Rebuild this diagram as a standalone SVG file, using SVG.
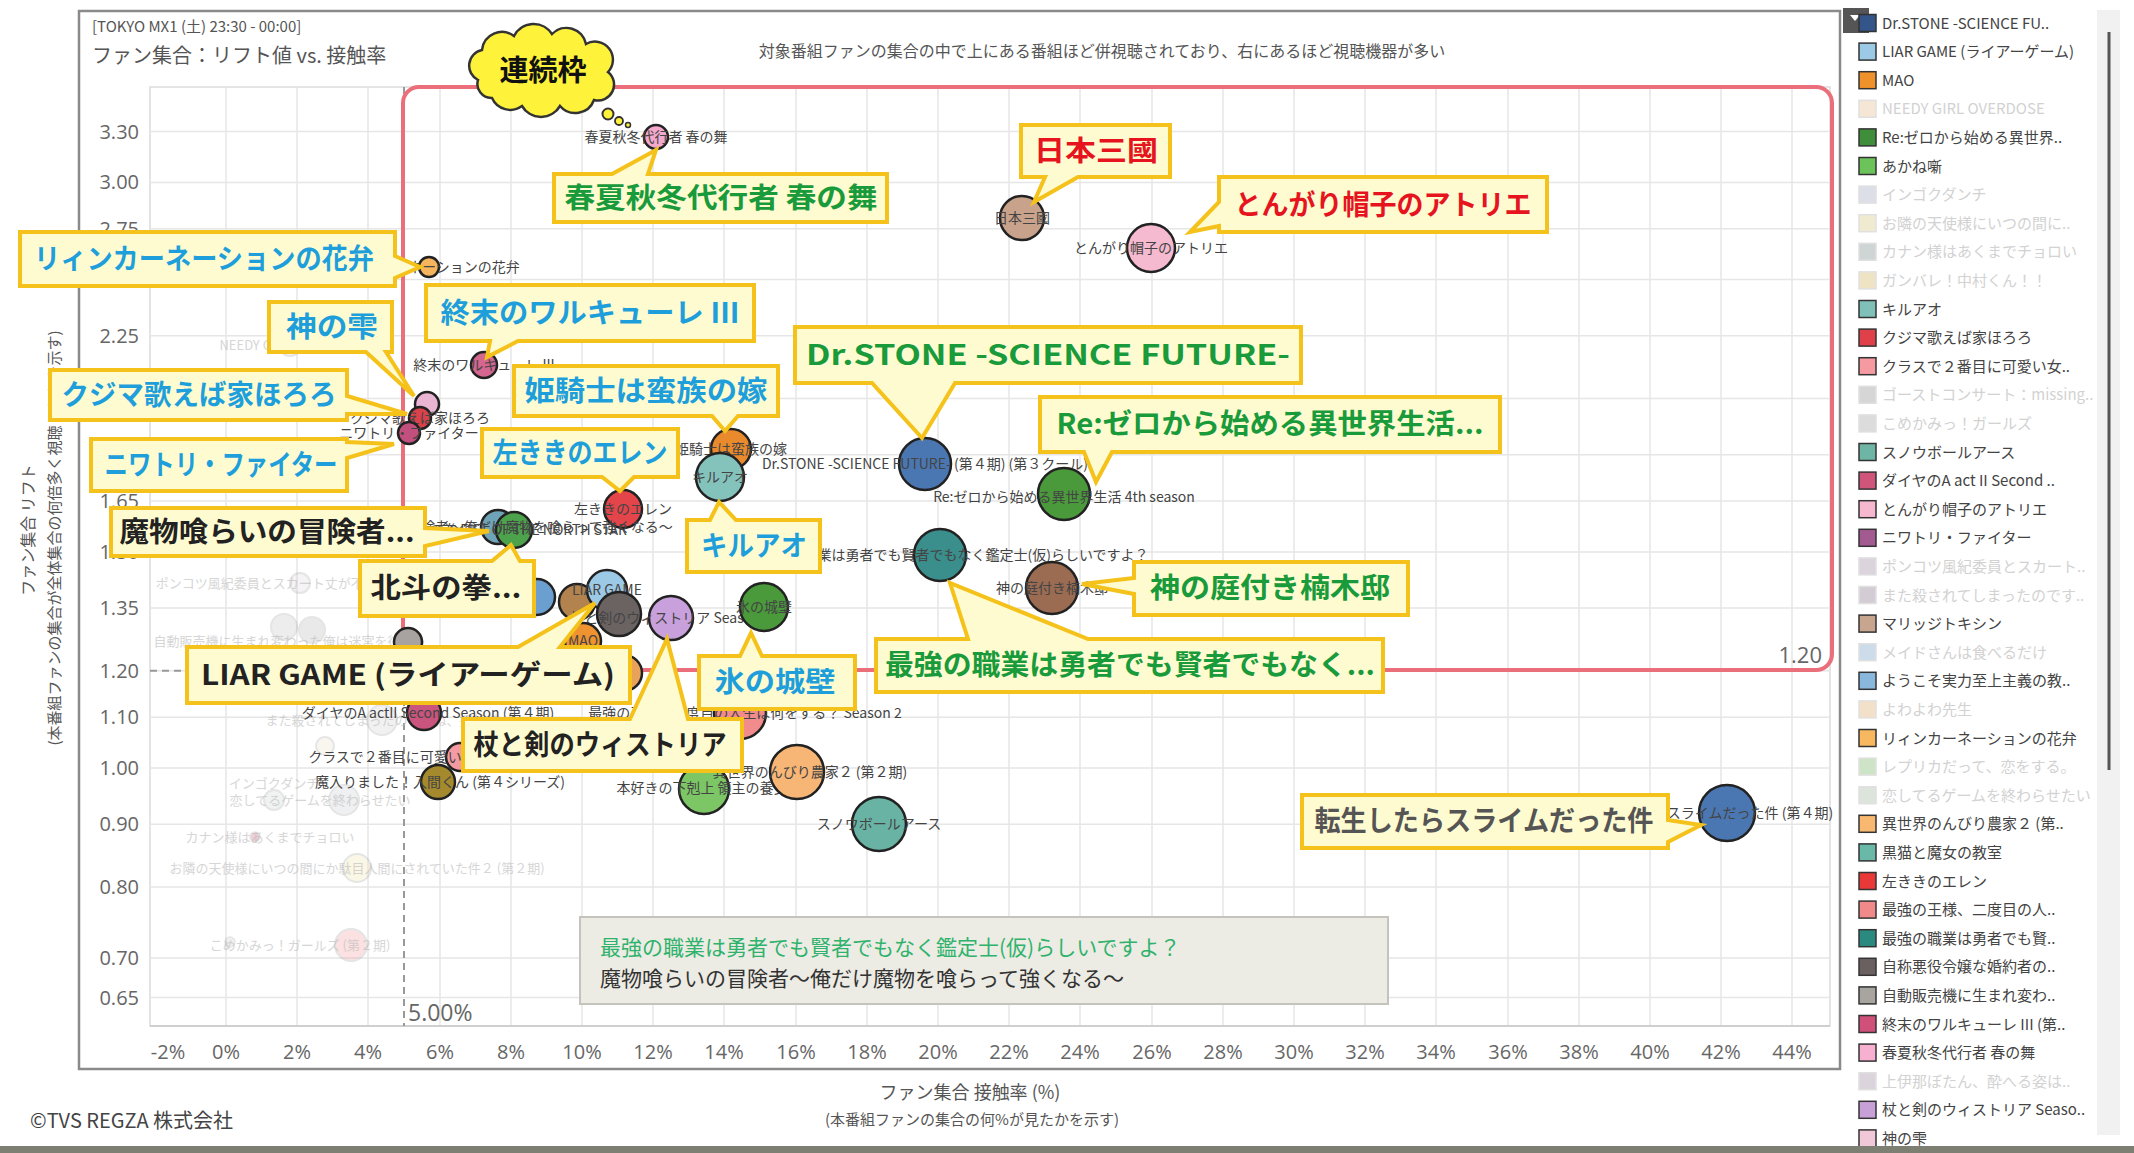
<svg xmlns="http://www.w3.org/2000/svg" width="2134" height="1153" viewBox="0 0 2134 1153">
<style>
.grid{stroke:#e6e6e6;stroke-width:1.5}
.yt{font-family:"Open Sans",sans-serif;font-size:20px;fill:#666;text-anchor:end}
.xt{font-family:"Open Sans",sans-serif;font-size:20px;fill:#666;text-anchor:middle}
.dot{stroke:#222;stroke-width:2.5}
.fd{opacity:0.25}
.lbl{font-family:"Noto Sans CJK JP",sans-serif;font-size:14px;fill:#444;text-anchor:middle}
.flbl{font-family:"Noto Sans CJK JP",sans-serif;font-size:13px;fill:#bbb;text-anchor:middle;opacity:0.6}
.co{fill:#fffbd0;stroke:#f4c21a;stroke-width:4;stroke-linejoin:miter}
.ct{font-family:"Noto Sans CJK JP",sans-serif;font-size:28px;font-weight:700;text-anchor:middle}
.cy{fill:#1e9fdb}.gr{fill:#199a3b}.rd{fill:#e5141e}.bk{fill:#222}.gy{fill:#555}
.lg{font-family:"Noto Sans CJK JP",sans-serif;font-size:15px;fill:#444}
.lgf{fill:#d2d2d2}
.sw{stroke:#333;stroke-width:1.5}
.swf{stroke:#e0e0e0;stroke-width:1.5}
.ttl{font-family:"Noto Sans CJK JP",sans-serif;fill:#555}
</style>
<rect x="0" y="0" width="2134" height="1153" fill="#ffffff"/>

<!-- chart frame -->
<rect x="79" y="11" width="1761" height="1058" fill="#ffffff" stroke="#8a8a8a" stroke-width="2.5"/>

<!-- titles -->
<text class="ttl" x="92" y="32" font-size="15">[TOKYO MX1 (土) 23:30 - 00:00]</text>
<text class="ttl" x="92" y="63" font-size="20">ファン集合：リフト値 vs. 接触率</text>
<text class="ttl" x="1102" y="57" font-size="16" text-anchor="middle" fill="#777">対象番組ファンの集合の中で上にある番組ほど併視聴されており、右にあるほど視聴機器が多い</text>

<!-- grid -->
<g id="grid">
<rect x="150" y="87" width="1680" height="939" fill="none" stroke="#dcdcdc" stroke-width="1.5"/>
<g class="grid">
<line x1="226" y1="87" x2="226" y2="1026"/><line x1="297" y1="87" x2="297" y2="1026"/><line x1="368" y1="87" x2="368" y2="1026"/><line x1="440" y1="87" x2="440" y2="1026"/><line x1="511" y1="87" x2="511" y2="1026"/><line x1="582" y1="87" x2="582" y2="1026"/><line x1="653" y1="87" x2="653" y2="1026"/><line x1="724" y1="87" x2="724" y2="1026"/><line x1="796" y1="87" x2="796" y2="1026"/><line x1="867" y1="87" x2="867" y2="1026"/><line x1="938" y1="87" x2="938" y2="1026"/><line x1="1009" y1="87" x2="1009" y2="1026"/><line x1="1080" y1="87" x2="1080" y2="1026"/><line x1="1152" y1="87" x2="1152" y2="1026"/><line x1="1223" y1="87" x2="1223" y2="1026"/><line x1="1294" y1="87" x2="1294" y2="1026"/><line x1="1365" y1="87" x2="1365" y2="1026"/><line x1="1436" y1="87" x2="1436" y2="1026"/><line x1="1508" y1="87" x2="1508" y2="1026"/><line x1="1579" y1="87" x2="1579" y2="1026"/><line x1="1650" y1="87" x2="1650" y2="1026"/><line x1="1721" y1="87" x2="1721" y2="1026"/><line x1="1792" y1="87" x2="1792" y2="1026"/>
<line x1="150" y1="131.6" x2="1830" y2="131.6"/><line x1="150" y1="182.4" x2="1830" y2="182.4"/><line x1="150" y1="228.8" x2="1830" y2="228.8"/><line x1="150" y1="279.6" x2="1830" y2="279.6"/><line x1="150" y1="335.8" x2="1830" y2="335.8"/><line x1="150" y1="398.6" x2="1830" y2="398.6"/><line x1="150" y1="454.7" x2="1830" y2="454.7"/><line x1="150" y1="501.1" x2="1830" y2="501.1"/><line x1="150" y1="551.9" x2="1830" y2="551.9"/><line x1="150" y1="608" x2="1830" y2="608"/><line x1="150" y1="670.8" x2="1830" y2="670.8"/><line x1="150" y1="717.2" x2="1830" y2="717.2"/><line x1="150" y1="768" x2="1830" y2="768"/><line x1="150" y1="824.2" x2="1830" y2="824.2"/><line x1="150" y1="886.9" x2="1830" y2="886.9"/><line x1="150" y1="958.1" x2="1830" y2="958.1"/><line x1="150" y1="997.6" x2="1830" y2="997.6"/>
</g>
<line x1="150" y1="1026" x2="1830" y2="1026" stroke="#cfcfcf" stroke-width="2"/>
</g>

<!-- axis ticks -->
<g id="yaxis">
<text class="yt" x="139" y="139">3.30</text><text class="yt" x="139" y="189">3.00</text><text class="yt" x="139" y="236">2.75</text><text class="yt" x="139" y="343">2.25</text><text class="yt" x="139" y="508">1.65</text><text class="yt" x="139" y="559">1.50</text><text class="yt" x="139" y="615">1.35</text><text class="yt" x="139" y="678">1.20</text><text class="yt" x="139" y="724">1.10</text><text class="yt" x="139" y="775">1.00</text><text class="yt" x="139" y="831">0.90</text><text class="yt" x="139" y="894">0.80</text><text class="yt" x="139" y="965">0.70</text><text class="yt" x="139" y="1005">0.65</text>
<text class="ttl" font-size="16" fill="#666" text-anchor="middle" transform="translate(34,530) rotate(-90)">ファン集合 リフト</text>
<text class="ttl" font-size="15" fill="#777" text-anchor="middle" transform="translate(60,538) rotate(-90)">(本番組ファンの集合が全体集合の何倍多く視聴したかを示す)</text>
</g>
<g id="xaxis">
<text class="xt" x="168" y="1059">-2%</text><text class="xt" x="226" y="1059">0%</text><text class="xt" x="297" y="1059">2%</text><text class="xt" x="368" y="1059">4%</text><text class="xt" x="440" y="1059">6%</text><text class="xt" x="511" y="1059">8%</text><text class="xt" x="582" y="1059">10%</text><text class="xt" x="653" y="1059">12%</text><text class="xt" x="724" y="1059">14%</text><text class="xt" x="796" y="1059">16%</text><text class="xt" x="867" y="1059">18%</text><text class="xt" x="938" y="1059">20%</text><text class="xt" x="1009" y="1059">22%</text><text class="xt" x="1080" y="1059">24%</text><text class="xt" x="1152" y="1059">26%</text><text class="xt" x="1223" y="1059">28%</text><text class="xt" x="1294" y="1059">30%</text><text class="xt" x="1365" y="1059">32%</text><text class="xt" x="1436" y="1059">34%</text><text class="xt" x="1508" y="1059">36%</text><text class="xt" x="1579" y="1059">38%</text><text class="xt" x="1650" y="1059">40%</text><text class="xt" x="1721" y="1059">42%</text><text class="xt" x="1792" y="1059">44%</text>
<text class="ttl" x="970" y="1099" font-size="18" fill="#666" text-anchor="middle">ファン集合 接触率 (%)</text>
<text class="ttl" x="972" y="1125" font-size="15" fill="#777" text-anchor="middle">(本番組ファンの集合の何%が見たかを示す)</text>
</g>

<!-- reference lines -->
<g id="connectors">
<line x1="150" y1="670.8" x2="404" y2="670.8" stroke="#999" stroke-width="2" stroke-dasharray="7 5"/>
<line x1="404" y1="87" x2="404" y2="1026" stroke="#999" stroke-width="2" stroke-dasharray="7 5"/>
<rect x="403" y="87" width="1429" height="583" rx="16" fill="none" stroke="#ea6f7b" stroke-width="4"/>
<text x="408" y="1021" font-family="Open Sans, sans-serif" font-size="23" fill="#666">5.00%</text>
<text x="1822" y="663" font-family="Open Sans, sans-serif" font-size="22" fill="#666" text-anchor="end">1.20</text>
</g>

<!-- faded points -->
<g id="faded" class="fd">
<circle cx="290" cy="345" r="11" fill="#f5e0c8" stroke="#999" stroke-width="2"/>
<circle cx="300" cy="583" r="10" fill="#d8d0d8" stroke="#999" stroke-width="2"/>
<circle cx="284" cy="627" r="13" fill="#bbbbbb" stroke="#999" stroke-width="2"/>
<circle cx="312" cy="630" r="13" fill="#aaaaaa" stroke="#999" stroke-width="2"/>
<circle cx="382" cy="720" r="15" fill="#ccc8cc" stroke="#999" stroke-width="2"/>
<circle cx="325" cy="746" r="9" fill="#e8dcc0" stroke="#999" stroke-width="2"/>
<circle cx="274" cy="800" r="10" fill="#c8d0d0" stroke="#999" stroke-width="2"/>
<circle cx="344" cy="800" r="15" fill="#c0c4c8" stroke="#999" stroke-width="2"/>
<circle cx="255" cy="837" r="5" fill="#c04060" stroke="#999" stroke-width="1.5"/>
<circle cx="357" cy="868" r="14" fill="#f0e0a0" stroke="#999" stroke-width="2"/>
<circle cx="230" cy="942" r="5" fill="#c8c8c8" stroke="#999" stroke-width="1.5"/>
<circle cx="351" cy="945" r="16" fill="#f08a90" stroke="#999" stroke-width="2"/>
</g>
<g id="faded-labels">
<text class="flbl" x="290" y="350">NEEDY GIRL OVERDOSE</text>
<text class="flbl" x="300" y="588">ポンコツ風紀委員とスカート丈が不適切なJKの話</text>
<text class="flbl" x="290" y="646">自動販売機に生まれ変わった俺は迷宮を彷徨う</text>
<text class="flbl" x="382" y="725">また殺されてしまったのですね、探偵様</text>
<text class="flbl" x="274" y="788">インゴクダンチ</text>
<text class="flbl" x="320" y="805">恋してるゲームを終わらせたい</text>
<text class="flbl" x="270" y="842">カナン様はあくまでチョロい</text>
<text class="flbl" x="357" y="873">お隣の天使様にいつの間にか駄目人間にされていた件２ (第２期)</text>
<text class="flbl" x="300" y="950">こめかみっ！ガールズ (第２期)</text>
</g>

<!-- active points -->
<g id="points">
<g id="p-haru"><circle class="dot" cx="656" cy="137" r="12" fill="#f4a9cc"/><text class="lbl" x="656" y="142">春夏秋冬代行者 春の舞</text></g>
<g id="p-nihon"><circle class="dot" cx="1022" cy="218" r="22" fill="#c9a28c"/><text class="lbl" x="1022" y="223">日本三國</text></g>
<g id="p-tongari"><circle class="dot" cx="1151" cy="248" r="24" fill="#f6bad0"/><text class="lbl" x="1151" y="253">とんがり帽子のアトリエ</text></g>
<g id="p-rein"><circle class="dot" cx="429" cy="267" r="10" fill="#f6b55c"/><text class="lbl" x="429" y="272">リィンカーネーションの花弁</text></g>
<g id="p-shumatsu"><circle class="dot" cx="484" cy="365" r="13" fill="#d4668f"/><text class="lbl" x="484" y="370">終末のワルキューレ III</text></g>
<g id="p-kami"><circle class="dot" cx="427" cy="404" r="12" fill="#eab5d2"/></g>
<g id="p-kujima"><circle class="dot" cx="420" cy="418" r="11" fill="#d9414b"/><text class="lbl" x="420" y="423">クジマ歌えば家ほろろ</text></g>
<g id="p-niwatori"><circle class="dot" cx="409" cy="433" r="11" fill="#c2507e"/><text class="lbl" x="409" y="438">ニワトリ・ファイター</text></g>
<g id="p-hime"><circle class="dot" cx="731" cy="449" r="20" fill="#e98a2c"/><text class="lbl" x="731" y="454">姫騎士は蛮族の嫁</text></g>
<g id="p-kiruao"><circle class="dot" cx="720" cy="477" r="24" fill="#84c2bc"/><text class="lbl" x="720" y="482">キルアオ</text></g>
<g id="p-drstone"><circle class="dot" cx="925" cy="464" r="26" fill="#4a77b2"/><text class="lbl" x="925" y="469">Dr.STONE -SCIENCE FUTURE- (第４期) (第３クール)</text></g>
<g id="p-rezero"><circle class="dot" cx="1064" cy="494" r="26" fill="#4a9a3c"/><text class="lbl" x="1064" y="502">Re:ゼロから始める異世界生活 4th season</text></g>
<g id="p-hidari"><circle class="dot" cx="623" cy="509" r="19" fill="#e3454a"/><text class="lbl" x="623" y="514">左ききのエレン</text></g>
<g id="p-mamono"><circle class="dot" cx="498" cy="527" r="17" fill="#6fa4b8"/></g>
<g id="p-hokuto"><circle class="dot" cx="514" cy="530" r="18" fill="#4da34c"/><text class="lbl" x="498" y="532">魔物喰らいの冒険者〜俺だけ魔物を喰らって強くなる〜</text><text class="lbl" x="514" y="535">北斗の拳 FIST OF THE NORTH STAR</text></g>
<g id="p-saikyo"><circle class="dot" cx="940" cy="555" r="26" fill="#3a8f8c"/><text class="lbl" x="955" y="560">最強の職業は勇者でも賢者でもなく鑑定士(仮)らしいですよ？</text></g>
<g id="p-kusu"><circle class="dot" cx="1052" cy="588" r="26" fill="#9b6b52"/><text class="lbl" x="1052" y="593">神の庭付き楠木邸</text></g>
<g id="p-jihanki"><circle class="dot" cx="408" cy="642" r="14" fill="#a8a3a0"/></g>
<g id="p-youkoso"><circle class="dot" cx="537" cy="597" r="18" fill="#6a9fcf"/></g>
<g id="p-marriage"><circle class="dot" cx="577" cy="602" r="18" fill="#b2834f"/></g>
<g id="p-liar"><circle class="dot" cx="607" cy="590" r="20" fill="#9cc9e6"/><text class="lbl" x="607" y="595">LIAR GAME</text></g>
<g id="p-jisho"><circle class="dot" cx="619" cy="614" r="22" fill="#6b6262"/></g>
<g id="p-tsue"><circle class="dot" cx="671" cy="618" r="22" fill="#c8a0dc"/><text class="lbl" x="671" y="623">杖と剣のウィストリア Season 2</text></g>
<g id="p-kori"><circle class="dot" cx="764" cy="607" r="24" fill="#4a9a3c"/><text class="lbl" x="764" y="612">氷の城壁</text></g>
<g id="p-mao"><circle class="dot" cx="583" cy="641" r="18" fill="#ef9230"/><text class="lbl" x="583" y="646">MAO</text></g>
<g id="p-orange2"><circle class="dot" cx="624" cy="673" r="18" fill="#e9a25a"/></g>
<g id="p-ousama"><circle class="dot" cx="740" cy="713" r="26" fill="#f28b8b"/><text class="lbl" x="745" y="718">最強の王様、二度目の人生は何をする？ Season 2</text></g>
<g id="p-daiya"><circle class="dot" cx="424" cy="713" r="17" fill="#c9557e"/><text class="lbl" x="428" y="718">ダイヤのA actII Second Season (第４期)</text></g>
<g id="p-class"><circle class="dot" cx="460" cy="757" r="14" fill="#f49aa2"/><text class="lbl" x="462" y="762">クラスで２番目に可愛い女の子と友だちになった</text></g>
<g id="p-iruma"><circle class="dot" cx="438" cy="782" r="17" fill="#a48a2c"/><text class="lbl" x="440" y="787">魔入りました！入間くん (第４シリーズ)</text></g>
<g id="p-honzuki"><circle class="dot" cx="704" cy="789" r="25" fill="#7cc665"/><text class="lbl" x="702" y="793">本好きの下剋上 領主の養女</text></g>
<g id="p-nonbiri"><circle class="dot" cx="797" cy="772" r="27" fill="#f7b676"/><text class="lbl" x="810" y="777">異世界のんびり農家２ (第２期)</text></g>
<g id="p-snow"><circle class="dot" cx="879" cy="824" r="27" fill="#68b3a4"/><text class="lbl" x="879" y="829">スノウボールアース</text></g>
<g id="p-slime"><circle class="dot" cx="1727" cy="813" r="28" fill="#4a77b2"/><text class="lbl" x="1715" y="818">転生したらスライムだった件 (第４期)</text></g>
</g>

<!-- bottom info box -->
<g id="info">
<rect x="580" y="917" width="808" height="87" fill="#ecebe4" stroke="#c4c4bc" stroke-width="2"/>
<text x="600" y="955" font-family="Noto Sans CJK JP, sans-serif" font-size="21" fill="#2fb36c">最強の職業は勇者でも賢者でもなく鑑定士(仮)らしいですよ？</text>
<text x="600" y="986" font-family="Noto Sans CJK JP, sans-serif" font-size="21" fill="#333">魔物喰らいの冒険者〜俺だけ魔物を喰らって強くなる〜</text>
</g>

<!-- callouts -->
<g id="callouts">
<g id="c-haru"><path class="co" d="M554 174 L612 174 L656 150 L648 174 L887 174 L887 222 L554 222 Z"/><text class="ct gr" x="721" y="208" textLength="313" lengthAdjust="spacingAndGlyphs">春夏秋冬代行者 春の舞</text></g>
<g id="c-nihon"><path class="co" d="M1021 125 L1170 125 L1170 177 L1078 177 L1034 202 L1045 177 L1021 177 Z"/><text class="ct rd" x="1096" y="161" textLength="124" lengthAdjust="spacingAndGlyphs">日本三國</text></g>
<g id="c-tongari"><path class="co" d="M1219 177 L1547 177 L1547 232 L1219 232 L1219 226 L1190 232 L1219 202 Z"/><text class="ct rd" x="1383" y="215" textLength="297" lengthAdjust="spacingAndGlyphs">とんがり帽子のアトリエ</text></g>
<g id="c-rein"><path class="co" d="M20 232 L395 232 L395 256 L420 267 L395 278 L395 286 L20 286 Z"/><text class="ct cy" x="204" y="269" textLength="340" lengthAdjust="spacingAndGlyphs">リィンカーネーションの花弁</text></g>
<g id="c-kami"><path class="co" d="M269 302 L392 302 L392 352 L386 352 L414 396 L366 352 L269 352 Z"/><text class="ct cy" x="332" y="337" textLength="92" lengthAdjust="spacingAndGlyphs">神の雫</text></g>
<g id="c-shumatsu"><path class="co" d="M426 285 L754 285 L754 341 L518 341 L487 357 L490 341 L426 341 Z"/><text class="ct cy" x="590" y="323" textLength="299" lengthAdjust="spacingAndGlyphs">終末のワルキューレ III</text></g>
<g id="c-kujima"><path class="co" d="M50 370 L347 370 L347 396 L407 414 L347 414 L347 420 L50 420 Z"/><text class="ct cy" x="199" y="405" textLength="275" lengthAdjust="spacingAndGlyphs">クジマ歌えば家ほろろ</text></g>
<g id="c-niwatori"><path class="co" d="M91 439 L347 439 L347 442 L394 444 L347 458 L347 491 L91 491 Z"/><text class="ct cy" x="221" y="475" textLength="233" lengthAdjust="spacingAndGlyphs">ニワトリ・ファイター</text></g>
<g id="c-hime"><path class="co" d="M514 366 L778 366 L778 416 L738 416 L725 431 L712 416 L514 416 Z"/><text class="ct cy" x="646" y="401" textLength="243" lengthAdjust="spacingAndGlyphs">姫騎士は蛮族の嫁</text></g>
<g id="c-hidari"><path class="co" d="M482 429 L678 429 L678 477 L634 477 L620 491 L602 477 L482 477 Z"/><text class="ct cy" x="580" y="463" textLength="175" lengthAdjust="spacingAndGlyphs">左ききのエレン</text></g>
<g id="c-kiruao"><path class="co" d="M687 520 L710 520 L719 502 L736 520 L820 520 L820 572 L687 572 Z"/><text class="ct cy" x="754" y="556" textLength="106" lengthAdjust="spacingAndGlyphs">キルアオ</text></g>
<g id="c-drstone"><path class="co" d="M795 327 L1301 327 L1301 383 L955 383 L922 438 L872 383 L795 383 Z"/><text class="ct gr" x="1048" y="365" textLength="484" lengthAdjust="spacingAndGlyphs">Dr.STONE -SCIENCE FUTURE-</text></g>
<g id="c-rezero"><path class="co" d="M1040 397 L1500 397 L1500 452 L1112 452 L1096 482 L1084 452 L1040 452 Z"/><text class="ct gr" x="1270" y="434" textLength="427" lengthAdjust="spacingAndGlyphs">Re:ゼロから始める異世界生活...</text></g>
<g id="c-mamono"><path class="co" d="M111 508 L425 508 L425 528 L489 531 L425 546 L425 556 L111 556 Z"/><text class="ct bk" x="267" y="542" textLength="295" lengthAdjust="spacingAndGlyphs">魔物喰らいの冒険者...</text></g>
<g id="c-hokuto"><path class="co" d="M360 561 L492 561 L511 545 L520 561 L534 561 L534 616 L360 616 Z"/><text class="ct bk" x="446" y="598" textLength="151" lengthAdjust="spacingAndGlyphs">北斗の拳...</text></g>
<g id="c-liar"><path class="co" d="M187 647 L518 647 L595 603 L560 647 L630 647 L630 703 L187 703 Z"/><text class="ct bk" x="408" y="685" textLength="414" lengthAdjust="spacingAndGlyphs">LIAR GAME (ライアーゲーム)</text></g>
<g id="c-tsue"><path class="co" d="M463 719 L630 719 L667 639 L688 719 L742 719 L742 771 L463 771 Z"/><text class="ct bk" x="600" y="755" textLength="253" lengthAdjust="spacingAndGlyphs">杖と剣のウィストリア</text></g>
<g id="c-kori"><path class="co" d="M699 656 L740 656 L751 633 L762 656 L855 656 L855 709 L699 709 Z"/><text class="ct cy" x="775" y="692" textLength="121" lengthAdjust="spacingAndGlyphs">氷の城壁</text></g>
<g id="c-kusu"><path class="co" d="M1134 562 L1408 562 L1408 615 L1134 615 L1134 594 L1082 584 L1134 578 Z"/><text class="ct gr" x="1270" y="598" textLength="240" lengthAdjust="spacingAndGlyphs">神の庭付き楠木邸</text></g>
<g id="c-saikyo"><path class="co" d="M876 639 L968 639 L950 583 L1088 639 L1383 639 L1383 692 L876 692 Z"/><text class="ct gr" x="1130" y="675" textLength="490" lengthAdjust="spacingAndGlyphs">最強の職業は勇者でも賢者でもなく...</text></g>
<g id="c-slime"><path class="co" d="M1302 795 L1668 795 L1668 820 L1701 825 L1668 842 L1668 848 L1302 848 Z"/><text class="ct gy" x="1484" y="831" textLength="339" lengthAdjust="spacingAndGlyphs">転生したらスライムだった件</text></g>
</g>

<!-- thought cloud -->
<g id="renzoku">
<path d="M478 80 a16 16 0 0 1 4 -30 a20 20 0 0 1 32 -14 a22 22 0 0 1 38 -2 a20 20 0 0 1 34 10 a18 18 0 0 1 22 28 a16 16 0 0 1 -14 28 a20 20 0 0 1 -34 6 a22 22 0 0 1 -38 0 a20 20 0 0 1 -30 -8 a14 14 0 0 1 -14 -18 Z" fill="#fff23a" stroke="#333" stroke-width="2.5"/>
<circle cx="608" cy="114" r="5.5" fill="#fff23a" stroke="#333" stroke-width="2"/>
<circle cx="619" cy="121" r="4" fill="#fff23a" stroke="#333" stroke-width="1.8"/>
<circle cx="628" cy="125" r="2.5" fill="#fff23a" stroke="#333" stroke-width="1.5"/>
<text x="543" y="81" font-family="Noto Sans CJK JP, sans-serif" font-size="29" font-weight="700" fill="#111" text-anchor="middle">連続枠</text>
</g>

<!-- legend -->
<g id="legend">
<rect x="2097" y="10" width="23" height="1125" fill="#f1f1f1"/>
<line x1="2109" y1="32" x2="2109" y2="770" stroke="#555" stroke-width="3"/>
<rect x="1843" y="8" width="26" height="25" fill="#555"/>
<path d="M1850 15 L1860 15 L1855 21 Z" fill="#fff"/>
<g id="lg-items">
<rect class="sw" x="1859" y="14.5" width="17" height="17" fill="#34558a"/><text class="lg" x="1882" y="28.5">Dr.STONE -SCIENCE FU..</text>
<rect class="sw" x="1859" y="43.1" width="17" height="17" fill="#9cc9e6"/><text class="lg" x="1882" y="57.1">LIAR GAME (ライアーゲーム)</text>
<rect class="sw" x="1859" y="71.7" width="17" height="17" fill="#f0922b"/><text class="lg" x="1882" y="85.7">MAO</text>
<rect class="swf" x="1859" y="100.3" width="17" height="17" fill="#f5e6d6"/><text class="lg lgf" x="1882" y="114.3">NEEDY GIRL OVERDOSE</text>
<rect class="sw" x="1859" y="128.9" width="17" height="17" fill="#3f8f3a"/><text class="lg" x="1882" y="142.9">Re:ゼロから始める異世界..</text>
<rect class="sw" x="1859" y="157.5" width="17" height="17" fill="#6cc35a"/><text class="lg" x="1882" y="171.5">あかね噺</text>
<rect class="swf" x="1859" y="186.1" width="17" height="17" fill="#dcdee8"/><text class="lg lgf" x="1882" y="200.1">インゴクダンチ</text>
<rect class="swf" x="1859" y="214.7" width="17" height="17" fill="#f0ead0"/><text class="lg lgf" x="1882" y="228.7">お隣の天使様にいつの間に..</text>
<rect class="swf" x="1859" y="243.3" width="17" height="17" fill="#cfd5d5"/><text class="lg lgf" x="1882" y="257.3">カナン様はあくまでチョロい</text>
<rect class="swf" x="1859" y="271.9" width="17" height="17" fill="#eee4c4"/><text class="lg lgf" x="1882" y="285.9">ガンバレ！中村くん！！</text>
<rect class="sw" x="1859" y="300.5" width="17" height="17" fill="#7fc1b9"/><text class="lg" x="1882" y="314.5">キルアオ</text>
<rect class="sw" x="1859" y="329.1" width="17" height="17" fill="#e0404a"/><text class="lg" x="1882" y="343.1">クジマ歌えば家ほろろ</text>
<rect class="sw" x="1859" y="357.7" width="17" height="17" fill="#f59aa0"/><text class="lg" x="1882" y="371.7">クラスで２番目に可愛い女..</text>
<rect class="swf" x="1859" y="386.3" width="17" height="17" fill="#d6d6d6"/><text class="lg lgf" x="1882" y="400.3">ゴーストコンサート：missing..</text>
<rect class="swf" x="1859" y="414.9" width="17" height="17" fill="#dcdcdc"/><text class="lg lgf" x="1882" y="428.9">こめかみっ！ガールズ</text>
<rect class="sw" x="1859" y="443.5" width="17" height="17" fill="#6fb5a5"/><text class="lg" x="1882" y="457.5">スノウボールアース</text>
<rect class="sw" x="1859" y="472.1" width="17" height="17" fill="#d0557a"/><text class="lg" x="1882" y="486.1">ダイヤのA  act II Second ..</text>
<rect class="sw" x="1859" y="500.7" width="17" height="17" fill="#f6b8cf"/><text class="lg" x="1882" y="514.7">とんがり帽子のアトリエ</text>
<rect class="sw" x="1859" y="529.3" width="17" height="17" fill="#a35a90"/><text class="lg" x="1882" y="543.3">ニワトリ・ファイター</text>
<rect class="swf" x="1859" y="557.9" width="17" height="17" fill="#dcd4dc"/><text class="lg lgf" x="1882" y="571.9">ポンコツ風紀委員とスカート..</text>
<rect class="swf" x="1859" y="586.5" width="17" height="17" fill="#d4ccd4"/><text class="lg lgf" x="1882" y="600.5">また殺されてしまったのです..</text>
<rect class="sw" x="1859" y="615.1" width="17" height="17" fill="#c8a58e"/><text class="lg" x="1882" y="629.1">マリッジトキシン</text>
<rect class="swf" x="1859" y="643.7" width="17" height="17" fill="#ccdcea"/><text class="lg lgf" x="1882" y="657.7">メイドさんは食べるだけ</text>
<rect class="sw" x="1859" y="672.3" width="17" height="17" fill="#8ab8dc"/><text class="lg" x="1882" y="686.3">ようこそ実力至上主義の教..</text>
<rect class="swf" x="1859" y="700.9" width="17" height="17" fill="#f2e0c8"/><text class="lg lgf" x="1882" y="714.9">よわよわ先生</text>
<rect class="sw" x="1859" y="729.5" width="17" height="17" fill="#f8b860"/><text class="lg" x="1882" y="743.5">リィンカーネーションの花弁</text>
<rect class="swf" x="1859" y="758.1" width="17" height="17" fill="#cde4c6"/><text class="lg lgf" x="1882" y="772.1">レプリカだって、恋をする。</text>
<rect class="swf" x="1859" y="786.7" width="17" height="17" fill="#dce4dc"/><text class="lg lgf" x="1882" y="800.7">恋してるゲームを終わらせたい</text>
<rect class="sw" x="1859" y="815.3" width="17" height="17" fill="#f8b870"/><text class="lg" x="1882" y="829.3">異世界のんびり農家２ (第..</text>
<rect class="sw" x="1859" y="843.9" width="17" height="17" fill="#6ab8a8"/><text class="lg" x="1882" y="857.9">黒猫と魔女の教室</text>
<rect class="sw" x="1859" y="872.5" width="17" height="17" fill="#e83838"/><text class="lg" x="1882" y="886.5">左ききのエレン</text>
<rect class="sw" x="1859" y="901.1" width="17" height="17" fill="#f08a8a"/><text class="lg" x="1882" y="915.1">最強の王様、二度目の人..</text>
<rect class="sw" x="1859" y="929.7" width="17" height="17" fill="#2a8a80"/><text class="lg" x="1882" y="943.7">最強の職業は勇者でも賢..</text>
<rect class="sw" x="1859" y="958.3" width="17" height="17" fill="#6a6060"/><text class="lg" x="1882" y="972.3">自称悪役令嬢な婚約者の..</text>
<rect class="sw" x="1859" y="986.9" width="17" height="17" fill="#a8a4a0"/><text class="lg" x="1882" y="1000.9">自動販売機に生まれ変わ..</text>
<rect class="sw" x="1859" y="1015.5" width="17" height="17" fill="#d0507a"/><text class="lg" x="1882" y="1029.5">終末のワルキューレ III (第..</text>
<rect class="sw" x="1859" y="1044.1" width="17" height="17" fill="#f8b0d0"/><text class="lg" x="1882" y="1058.1">春夏秋冬代行者 春の舞</text>
<rect class="swf" x="1859" y="1072.7" width="17" height="17" fill="#dcd4dc"/><text class="lg lgf" x="1882" y="1086.7">上伊那ぼたん、酔へる姿は..</text>
<rect class="sw" x="1859" y="1101.3" width="17" height="17" fill="#c8a0d8"/><text class="lg" x="1882" y="1115.3">杖と剣のウィストリア Seaso..</text>
<rect class="sw" x="1859" y="1129.9" width="17" height="17" fill="#f0c8d8"/><text class="lg" x="1882" y="1143.9">神の雫</text>
</g>
</g>

<text x="30" y="1128" font-family="Noto Sans CJK JP, sans-serif" font-size="20" fill="#444">©TVS REGZA 株式会社</text>
<rect x="0" y="1146" width="2134" height="7" fill="#7d7f72"/>
</svg>
